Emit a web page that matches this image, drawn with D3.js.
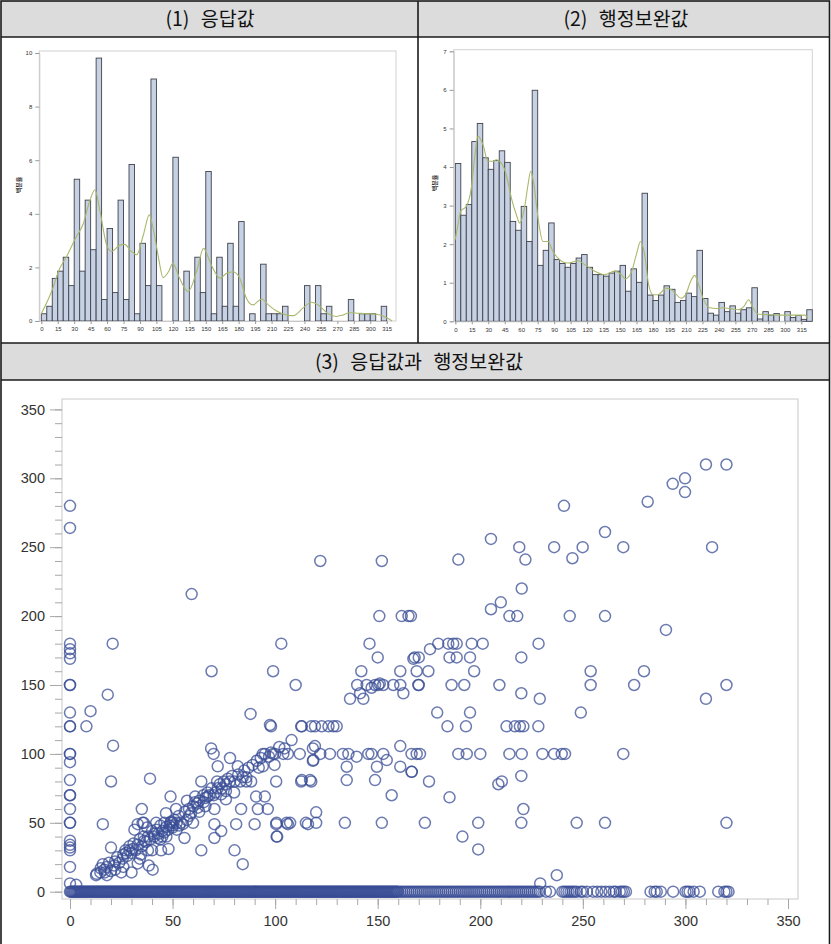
<!DOCTYPE html>
<html>
<head>
<meta charset="utf-8">
<script src="https://cdn.jsdelivr.net/npm/d3@7"></script>
<style>
body { margin: 0; background: #fff; }
</style>
</head>
<body>
<svg id="chart"></svg>
<script>
var titles = ["(1) 응답값", "(2) 행정보완값", "(3) 응답값과 행정보완값"];
var histYLabel = "백분율";

var histXTicks = [0, 15, 30, 45, 60, 75, 90, 105, 120, 135, 150, 165, 180, 195, 210, 225, 240, 255, 270, 285, 300, 315];
var hist1YTicks = [0, 2, 4, 6, 8, 10];
var hist2YTicks = [0, 1, 2, 3, 4, 5, 6, 7];
var scatterTicks = [0, 50, 100, 150, 200, 250, 300, 350];

// percent per 5-wide bin, starting at 0
var hist1Pct = [0.27, 0.55, 1.59, 1.86, 2.38, 1.32, 5.29, 1.86, 4.51, 2.66, 9.81, 0.8, 3.45, 1.06, 4.51, 0.8,
    5.84, 0.27, 2.9, 1.32, 9.03, 1.32, 0, 0, 6.11, 0, 1.86, 0, 2.38, 1.06, 5.58, 0.27, 2.38, 0.55, 2.9, 0.55,
    3.71, 0, 0.27, 0, 2.12, 0.27, 0.27, 0.27, 0.55, 0, 0, 0, 1.32, 0, 1.32, 0.27, 0.55, 0, 0, 0, 0.8, 0,
    0.27, 0.27, 0.27, 0, 0.55];
var hist2Pct = [4.09, 2.75, 3.03, 4.66, 5.13, 4.24, 3.94, 4.17, 4.42, 4.12, 2.59, 2.36, 2.98, 2.07, 5.99, 1.45,
    1.84, 2.55, 1.6, 1.5, 1.4, 1.5, 1.64, 1.73, 1.4, 1.21, 1.21, 1.17, 1.25, 1.3, 1.45, 0.78, 1.36, 1.01, 3.32,
    0.68, 0.54, 0.68, 0.92, 0.83, 0.49, 0.54, 0.73, 0.64, 1.84, 0.59, 0.21, 0.16, 0.49, 0.25, 0.4, 0.21, 0.3,
    0.35, 0.87, 0.06, 0.25, 0.16, 0.2, 0, 0.25, 0.1, 0.15, 0.05, 0.3];

// density curves
var kde1X = [0, 11, 15.5, 23, 32, 38, 44, 49, 53.5, 59.6, 64, 72, 76, 82, 87, 93, 98.5, 102, 107, 111, 116, 120, 126,
    134, 141.6, 148, 155, 163, 169, 175, 181, 187, 193, 201, 207, 214.6, 224, 230, 239, 246.5, 252.6, 261.7, 269,
    275, 281, 289, 296.6, 305.8, 315, 320];
var kde1Y = [0.27, 1.28, 1.84, 2.4, 3.15, 3.6, 4.46, 4.9, 4.1, 2.84, 2.6, 2.84, 2.86, 2.6, 2.47, 3.2, 3.96, 3.46, 2.34,
    1.62, 1.84, 2.15, 1.6, 1.1, 1.84, 2.71, 2.09, 1.6, 1.78, 1.84, 1.6, 0.85, 0.6, 0.82, 0.6, 0.37, 0.22, 0.2, 0.5,
    0.7, 0.6, 0.27, 0.17, 0.22, 0.31, 0.29, 0.27, 0.25, 0.12, 0];
var kde2X = [0, 2.4, 4.9, 10, 14.6, 17.6, 20.6, 25.2, 29.7, 34.3, 37.3, 41.9, 46.4, 51, 55.5, 58.6, 63, 66.2, 68.6,
    71.6, 75.3, 79.8, 84.4, 88.9, 93.5, 102.6, 111.7, 117.8, 126.9, 136, 145, 151, 154.8, 160, 164.8, 168.7, 172.4,
    176, 180, 184.5, 192, 196.7, 205.8, 210.3, 214.3, 218, 221.5, 225.5, 231.6, 237.6, 243.7, 249.8, 257.4, 262.8,
    267, 271, 275.6, 284.7, 293.8, 302.9, 312, 318, 321];
var kde2Y = [2.12, 2.5, 2.85, 2.98, 3.46, 4.24, 4.8, 4.58, 4.15, 4.15, 4.19, 4.1, 3.8, 3.2, 2.77, 2.55, 2.94, 3.54,
    3.89, 3.54, 2.68, 2.07, 2.07, 1.81, 1.64, 1.51, 1.57, 1.47, 1.3, 1.21, 1.3, 1.21, 1.1, 1.25, 1.73, 2.07, 1.73,
    0.95, 0.69, 0.69, 0.86, 0.82, 0.6, 0.73, 1.04, 1.19, 0.95, 0.6, 0.35, 0.33, 0.35, 0.33, 0.3, 0.39, 0.56, 0.35,
    0.19, 0.17, 0.16, 0.16, 0.16, 0.16, 0.07];

// scatter: respondent value (x) vs admin value (y)
var zeroRowX = [0, 0.5, 1, 1.5, 2, 2.5, 3, 3.5, 4, 4.5, 5, 5.5, 6, 6.5, 7, 7.5, 8, 8.5, 9, 9.5, 10, 10.5, 11, 11.5,
    12, 12.5, 13, 13.5, 14, 14.5, 15, 15.5, 16, 16.5, 17, 17.5, 18, 18.5, 19, 19.5, 20, 20.5, 21, 21.5, 22, 22.5, 23,
    23.5, 24, 24.5, 25, 25.5, 26, 26.5, 27, 27.5, 28, 28.5, 29, 29.5, 30, 30.5, 31, 31.5, 32, 32.5, 33, 33.5, 34,
    34.5, 35, 35.5, 36, 36.5, 37, 37.5, 38, 38.5, 39, 39.5, 40, 40.5, 41, 41.5, 42, 42.5, 43, 43.5, 44, 44.5, 45,
    45.5, 46, 46.5, 47, 47.5, 48, 48.5, 49, 49.5, 50, 50.5, 51, 51.5, 52, 52.5, 53, 53.5, 54, 54.5, 55, 55.5, 56,
    56.5, 57, 57.5, 58, 58.5, 59, 59.5, 60, 60.5, 61, 61.5, 62, 62.5, 63, 63.5, 64, 64.5, 65, 65.5, 66, 66.5, 67,
    67.5, 68, 68.5, 69, 69.5, 70, 70.5, 71, 71.5, 72, 72.5, 73, 73.5, 74, 74.5, 75, 75.5, 76, 76.5, 77, 77.5, 78,
    78.5, 79, 79.5, 80, 80.5, 81, 81.5, 82, 82.5, 83, 83.5, 84, 84.5, 85, 85.5, 86, 86.5, 87, 87.5, 88, 88.5, 89,
    89.5, 90, 90.5, 91, 91.5, 92, 92.5, 93, 93.5, 94, 94.5, 95, 95.5, 96, 96.5, 97, 97.5, 98, 98.5, 99, 99.5, 100,
    100.5, 101, 101.5, 102, 102.5, 103, 103.5, 104, 104.5, 105, 105.5, 106, 106.5, 107, 107.5, 108, 108.5, 109,
    109.5, 110, 110.5, 111, 111.5, 112, 112.5, 113, 113.5, 114, 114.5, 115, 115.5, 116, 116.5, 117, 117.5, 118,
    118.5, 119, 119.5, 120, 120.5, 121, 121.5, 122, 122.5, 123, 123.5, 124, 124.5, 125, 125.5, 126, 126.5, 127,
    127.5, 128, 128.5, 129, 129.5, 130, 130.5, 131, 131.5, 132, 132.5, 133, 133.5, 134, 134.5, 135, 135.5, 136,
    136.5, 137, 137.5, 138, 138.5, 139, 139.5, 140, 140.5, 141, 141.5, 142, 142.5, 143, 143.5, 144, 144.5, 145,
    145.5, 146, 146.5, 147, 147.5, 148, 148.5, 149, 149.5, 150, 150.5, 151, 151.5, 152, 152.5, 153, 153.5, 154,
    154.5, 155, 155.5, 156, 156.5, 157, 157.5, 158, 158.5, 159, 159.5, 160, 161, 162, 163, 164, 165, 166, 167, 168,
    169, 170, 171, 172, 173, 174, 175, 176, 177, 178, 179, 180, 181, 182, 183, 184, 185, 186, 187, 188, 189, 190,
    191, 192, 193, 194, 195, 196, 197, 198, 199, 200, 201, 202, 203, 204, 205, 206, 207, 208, 209, 210, 211, 212,
    213, 214, 215, 216, 217, 218, 219, 220, 221, 222, 223, 224, 225, 226, 227, 228, 229, 232, 234, 240, 241, 242,
    243, 244, 245, 246, 247, 249, 250, 252, 255, 257, 259, 261, 263, 265, 266, 268, 269, 270, 271, 283, 285, 286,
    288, 294, 300, 301, 302, 304, 307, 316, 319, 320, 321];
var zeroColY = [280, 264, 180, 176, 173, 169, 150, 150, 130, 120, 120, 100, 100, 94, 81, 70, 70, 60, 50, 50, 37, 34,
    32, 30, 18, 6];
var otherPts = [
    [3, 5], [18.4, 143], [10, 131], [8, 120], [21, 106], [20, 80], [39, 82], [16, 49], [20, 32], [12.7, 12], [14.8, 14],
    [16.7, 16], [16, 20], [19, 21], [20, 15], [21.6, 19], [25, 14], [25.7, 24], [27.3, 28], [29, 30], [30.6, 31],
    [30, 14], [33, 20.5], [34.6, 27], [35, 60], [35.4, 50], [36.3, 37], [38.4, 19], [40.3, 16], [31.4, 45], [33, 49],
    [37.6, 46.5], [41, 42], [42.8, 39], [44.4, 30], [46, 43], [46.8, 57], [48.5, 48], [49.3, 51], [50, 46.5], [49, 69],
    [48, 31], [51.7, 60], [53.3, 48], [55.8, 39], [58.2, 55], [61, 69], [62.3, 61], [64, 80], [64, 30], [65.2, 65],
    [67, 69], [68.8, 104], [70, 100], [72, 91], [70.4, 60], [70.4, 49], [70.4, 39], [73.7, 44], [71.7, 80],
    [73.7, 70.6], [76, 73], [78, 97], [80.2, 80], [80.2, 30], [81, 49], [81.8, 91], [84.2, 83], [84.2, 20], [83.4, 60],
    [85.9, 80], [88.3, 80], [88, 129], [90, 49], [90.7, 69], [91.6, 60], [94, 100], [94, 91], [95, 69], [96.4, 60],
    [98, 120], [99, 100], [99.7, 92], [100.5, 80], [100.5, 49], [101, 40], [104.6, 104], [106.2, 100], [106.2, 49],
    [110, 150], [112.7, 120], [112, 100], [112.7, 80], [116, 49], [117.6, 120], [118.4, 104], [118.4, 95], [117.6, 80],
    [13, 13], [15, 17], [17, 14], [18, 18], [22, 22], [23, 25], [24, 21], [26, 27], [27, 30], [28, 26], [29, 33],
    [30, 28], [31, 35], [32, 30], [33, 34], [34, 38], [35, 33], [36, 40], [37, 36], [38, 40], [39, 38], [40, 44],
    [41, 40], [42, 45], [43, 42], [44, 48], [45, 44], [46, 50], [47, 47], [48, 45], [49, 50], [50, 50], [50, 48],
    [51, 52], [52, 50], [53, 55], [54, 50], [56, 58], [57, 52], [58, 60], [59, 57], [60, 62], [61, 65], [62, 64],
    [63, 66], [65, 70], [66, 68], [67, 72], [68, 70], [69, 75], [70, 70], [71, 72], [72, 75], [73, 78], [74, 75],
    [75, 80], [76, 78], [77, 82], [78, 80], [79, 84], [82, 85], [83, 80], [85, 88], [86, 83], [87, 90], [89, 92],
    [91, 95], [92, 90], [93, 97], [95, 100], [97, 98], [98, 101], [100, 100], [102, 105], [104, 100], [108, 110],
    [45, 40], [40, 30], [36, 50], [42, 50], [47, 40], [52, 45], [55, 49], [44, 38], [38, 30], [34, 24], [26, 18],
    [22, 16], [18, 12], [60, 50], [63, 58], [57, 66], [66, 62], [76, 67], [80, 72],
    [103, 180], [99, 160], [146, 180], [150, 170], [136.5, 140], [140, 150], [142, 160], [141.4, 144], [143, 140],
    [144.6, 150], [147, 148], [148.7, 150], [150.3, 150], [151, 151], [152.7, 150], [157.6, 150], [161, 160],
    [161, 150], [162.5, 144], [167.4, 169], [170, 170], [169, 160], [170, 150],
    [122, 100], [126.7, 100], [133, 100], [135.7, 100], [139.7, 98], [145.4, 100], [147, 100], [152.7, 100],
    [154.4, 95.5], [149.6, 90.7], [134.9, 90.7], [134.9, 81], [148.7, 81], [156.8, 70], [161, 105.7], [161, 90.7],
    [166.6, 87], [169, 100], [119.4, 105.7], [118.6, 95.5], [113, 81], [117, 81],
    [113, 120], [119.4, 120], [122.7, 120], [126, 120], [128.4, 120], [130, 120],
    [134, 50], [152, 50], [120, 50], [115, 50], [105.6, 50], [107.3, 50], [100.7, 50], [100.7, 40], [120, 57.6],
    [97.5, 121], [59.3, 216], [122, 240], [152, 240], [20.8, 180], [150.8, 200], [161.7, 200], [165, 200],
    [166.2, 200], [69, 160],
    [179.5, 180], [184.4, 180], [186.8, 180], [188.5, 180], [195.8, 180], [201.2, 180], [228.4, 180], [175.5, 176],
    [168, 170], [185, 170], [188.5, 170], [195, 170], [220, 170], [174.7, 160], [197, 160], [253.8, 160],
    [279.8, 160], [169.8, 150], [186, 150], [192.2, 150], [209.3, 150], [253.8, 150], [275, 150], [320, 150],
    [220, 144], [229, 140], [310, 140], [179, 130], [195, 130], [249, 130], [184, 120], [193, 120], [212.8, 120],
    [216.9, 120], [219.3, 120], [221, 120], [228.3, 120], [166.5, 100], [170.6, 100], [189.3, 100], [193.4, 100],
    [200, 100], [214.2, 100], [220.2, 100], [230.3, 100], [236, 100], [239.7, 100], [241.3, 100], [269.7, 100],
    [166.5, 87], [175, 80], [208.8, 78], [210.5, 80], [220, 84], [185, 68.5], [173, 50], [199, 50], [220, 50],
    [221, 60], [247, 50], [260.8, 50], [320, 50], [191.3, 40], [199, 30.7], [237.3, 12], [229.2, 6],
    [310, 310], [320, 310], [293.8, 296], [299.8, 300], [299.8, 290], [281.6, 283], [240.8, 280], [260.8, 261],
    [205.2, 256], [219, 250], [222, 241], [236, 250], [244.9, 242], [249.9, 250], [269.7, 250], [313, 250],
    [189.3, 241], [220.2, 220], [205.2, 205], [210, 210], [214.2, 200], [218, 200], [243.6, 200], [260.8, 200],
    [290.5, 190]
];

var binWidth = 5;
var W = 831, H = 944;
var svg = d3.select("#chart").attr("width", W).attr("height", H);

var headerFill = "#dcdcdc";
var korFont = "'Noto Sans CJK KR', 'Noto Sans', sans-serif";

// header bands
svg.append("rect").attr("x", 1).attr("y", 1).attr("width", 828).attr("height", 36).attr("fill", headerFill);
svg.append("rect").attr("x", 1).attr("y", 343).attr("width", 828).attr("height", 37).attr("fill", headerFill);

var titlePos = [[210, 26], [626, 26], [419, 369]];
titles.forEach(function(t, i) {
    svg.append("text")
        .attr("x", titlePos[i][0]).attr("y", titlePos[i][1])
        .attr("text-anchor", "middle")
        .attr("font-family", korFont)
        .attr("font-size", "19.5px")
        .attr("word-spacing", "7px")
        .attr("fill", "#111")
        .text(t);
});

var drawHist = function(pct, kdeX, kdeY, yTicks, o) {
    var g = svg.append("g");
    var xScale = d3.scaleLinear().domain([0, 315]).range([o.x0, o.x315]);
    var yScale = d3.scaleLinear().domain([0, o.yMax]).range([o.yBottom, o.yTop]);

    g.append("rect")
        .attr("x", o.left).attr("y", o.top)
        .attr("width", o.right - o.left).attr("height", o.yBottom - o.top)
        .attr("fill", "none").attr("stroke", "#d2d2d2").attr("stroke-width", 1);

    g.append("g").selectAll("rect")
        .data(pct.map(function(d, i) { return {start: i * binWidth, v: d}; }).filter(function(d) { return d.v > 0; }))
        .join("rect")
        .attr("x", function(d) { return xScale(d.start); })
        .attr("width", xScale(binWidth) - xScale(0))
        .attr("y", function(d) { return yScale(d.v); })
        .attr("height", function(d) { return yScale(0) - yScale(d.v); })
        .attr("fill", "#c6d2e3")
        .attr("stroke", "#40424c")
        .attr("stroke-width", 0.9);

    var pts = kdeX.map(function(d, i) { return [d, kdeY[i]]; });
    g.append("path")
        .datum(pts)
        .attr("fill", "none")
        .attr("stroke", "#a9b96c")
        .attr("stroke-width", 1.1)
        .attr("d", d3.line()
            .x(function(d) { return xScale(d[0]); })
            .y(function(d) { return yScale(d[1]); })
            .curve(d3.curveMonotoneX));

    var xa = g.append("g")
        .attr("transform", "translate(0," + o.yBottom + ")")
        .call(d3.axisBottom(xScale).tickValues(histXTicks).tickSize(3).tickPadding(3));
    var ya = g.append("g")
        .attr("transform", "translate(" + o.left + ",0)")
        .call(d3.axisLeft(yScale).tickValues(yTicks).tickSize(4).tickPadding(3).tickFormat(d3.format("d")));
    [xa, ya].forEach(function(a) {
        a.select(".domain").attr("stroke", "#c8c8c8");
        a.selectAll(".tick line").attr("stroke", "#9a9a9a");
        a.selectAll(".tick text").attr("font-family", "'Liberation Sans', Arial, sans-serif")
            .attr("font-size", "6px").attr("fill", "#333");
    });

    g.append("text")
        .attr("transform", "translate(" + o.labelX + "," + o.labelY + ") rotate(-90)")
        .attr("text-anchor", "middle")
        .attr("font-family", korFont)
        .attr("font-size", "6px")
        .attr("font-weight", "bold")
        .attr("fill", "#333")
        .text(histYLabel);
};

drawHist(hist1Pct, kde1X, kde1Y, hist1YTicks,
    {x0: 41.3, x315: 386.7, yMax: 10, yBottom: 321, yTop: 53, left: 39.3, right: 396, top: 51, labelX: 21, labelY: 185});
drawHist(hist2Pct, kde2X, kde2Y, hist2YTicks,
    {x0: 455.3, x315: 801.3, yMax: 7, yBottom: 321.3, yTop: 51.3, left: 453.7, right: 812.3, top: 49.7, labelX: 437, labelY: 183});

// scatter
var sx = d3.scaleLinear().domain([0, 350]).range([70, 788]);
var sy = d3.scaleLinear().domain([0, 350]).range([891.7, 409.4]);
var sg = svg.append("g");

sg.append("rect")
    .attr("x", 62).attr("y", 399).attr("width", 736).attr("height", 500)
    .attr("fill", "none").attr("stroke", "#d3d3d3").attr("stroke-width", 1.2);

var minorTicks = d3.range(0, 351, 10);
sg.append("g").attr("transform", "translate(0,899)")
    .call(d3.axisBottom(sx).tickValues(minorTicks).tickSize(6).tickFormat(""));
sg.append("g").attr("transform", "translate(62,0)")
    .call(d3.axisLeft(sy).tickValues(minorTicks).tickSize(7).tickFormat(""));
sg.append("g").attr("transform", "translate(0,899)")
    .call(d3.axisBottom(sx).tickValues(scatterTicks).tickSize(10).tickPadding(7));
sg.append("g").attr("transform", "translate(62,0)")
    .call(d3.axisLeft(sy).tickValues(scatterTicks).tickSize(12).tickPadding(5));
sg.selectAll(".domain").remove();
sg.selectAll(".tick line").attr("stroke", "#a8a8a8");
sg.selectAll(".tick text").attr("font-family", "'Liberation Sans', Arial, sans-serif")
    .attr("font-size", "14.5px").attr("fill", "#333");

var allPts = zeroRowX.map(function(d) { return [d, 0]; })
    .concat(zeroColY.map(function(d) { return [0, d]; }))
    .concat(otherPts);

sg.append("g").selectAll("circle")
    .data(allPts)
    .join("circle")
    .attr("cx", function(d) { return sx(d[0]); })
    .attr("cy", function(d) { return sy(d[1]); })
    .attr("r", 5.5)
    .attr("fill", "none")
    .attr("stroke", "#3a4e96")
    .attr("stroke-opacity", 0.75)
    .attr("stroke-width", 1.5);

// grid borders
var bc = "#1a1a1a";
svg.append("rect").attr("x", 1).attr("y", 1).attr("width", 828.5).attr("height", 950)
    .attr("fill", "none").attr("stroke", bc).attr("stroke-width", 1.6);
[37, 343, 380].forEach(function(yy) {
    svg.append("line").attr("x1", 1).attr("x2", 829.5).attr("y1", yy).attr("y2", yy)
        .attr("stroke", bc).attr("stroke-width", 1.6);
});
svg.append("line").attr("x1", 418).attr("x2", 418).attr("y1", 1).attr("y2", 343)
    .attr("stroke", bc).attr("stroke-width", 1.6);
</script>
</body>
</html>
